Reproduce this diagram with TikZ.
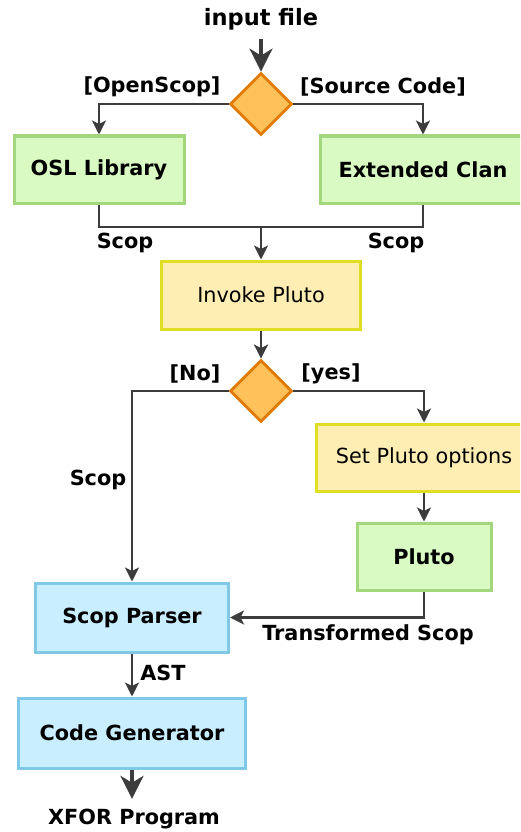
\documentclass[tikz,border=0pt]{standalone}
\usepackage{fontspec}
\setmainfont{DejaVu Sans}
\usetikzlibrary{shapes.geometric,arrows.meta}
\definecolor{lineC}{HTML}{3C3C3C}
\definecolor{gFill}{HTML}{D9FAC2}
\definecolor{gLine}{HTML}{A2D77E}
\definecolor{yFill}{HTML}{FFEEB3}
\definecolor{yLine}{HTML}{E0DE22}
\definecolor{bFill}{HTML}{C9EEFF}
\definecolor{bLine}{HTML}{80C8E8}
\definecolor{dFill}{HTML}{FFC25A}
\definecolor{dLine}{HTML}{E07A00}
\tikzset{
  box/.style={rectangle, line width=3pt, inner sep=0pt, align=center},
  greenbox/.style={box, fill=gFill, draw=gLine},
  yellowbox/.style={box, fill=yFill, draw=yLine, font=\fontsize{20.8}{24}\selectfont\mdseries},
  bluebox/.style={box, fill=bFill, draw=bLine},
  decision/.style={shape=diamond, aspect=1, inner sep=0pt, minimum width=62pt, minimum height=62pt, fill=dFill, draw=dLine, line width=2.8pt},
  lbl/.style={inner sep=0pt, text=black},
  plainline/.style={draw=lineC, line width=2.6pt},
  conn/.style={plainline, -{Stealth[length=14pt,width=14pt,inset=3.5pt]}},
  bigconn/.style={draw=lineC, line width=3.2pt, -{Stealth[length=23pt,width=23pt,inset=7pt]}}
}
\begin{document}
\begin{tikzpicture}[x=1pt,y=-1pt,font=\fontsize{20.8}{24}\selectfont\bfseries]
\useasboundingbox (0,0) rectangle (520,832);
\clip (0,0) rectangle (520,832);

% nodes
\node[lbl, font=\fontsize{22.5}{26}\selectfont\bfseries] (in) at (261,19) {input file};
\node[decision] (d1) at (261,104) {};
\node[greenbox, minimum width=170pt, minimum height=67pt] (osl) at (99,169.5) {OSL Library};
\node[greenbox, minimum width=206pt, minimum height=67pt] (clan) at (423,169.5) {Extended Clan};
\coordinate (j) at (261,227);
\node[yellowbox, minimum width=199pt, minimum height=68pt] (invoke) at (261,295) {Invoke Pluto};
\node[decision] (d2) at (261,391) {};
\node[yellowbox, minimum width=216pt, minimum height=67pt] (setopt) at (424,457.5) {Set Pluto options};
\node[greenbox, minimum width=134pt, minimum height=67pt] (pluto) at (424,556.5) {Pluto};
\node[bluebox, minimum width=193pt, minimum height=69pt] (parser) at (132,617.5) {Scop Parser};
\node[bluebox, minimum width=227pt, minimum height=70pt] (codegen) at (132,733) {Code Generator};
\node[lbl, inner ysep=0pt] (xfor) at (134,819) {XFOR Program};

% labels
\node[lbl] (lOpen) at (152,87) {[OpenScop]};
\node[lbl] (lSrc) at (383,87) {[Source Code]};
\node[lbl] (lScopA) at (125,243) {Scop};
\node[lbl] (lScopB) at (396,243) {Scop};
\node[lbl] (lNo) at (195,374) {[No]};
\node[lbl] (lYes) at (331,374) {[yes]};
\node[lbl] (lScopC) at (98,480) {Scop};
\node[lbl] (lTrans) at (368,635) {Transformed Scop};
\node[lbl] (lAst) at (163,673) {AST};

% connectors
\draw[bigconn, shorten <=9pt] (in.south) -- (d1.north);
\draw[conn] (d1.west) -| (osl.north);
\draw[conn] (d1.east) -| (clan.north);
\draw[plainline] (osl.south) |- (j) -| (clan.south);
\draw[conn] (j) -- (invoke.north);
\draw[conn] (invoke.south) -- (d2.north);
\draw[conn] (d2.west) -| (parser.north);
\draw[conn] (d2.east) -| (setopt.north);
\draw[conn] (setopt.south) -- (pluto.north);
\draw[conn] (pluto.south) |- (parser.east);
\draw[conn] (parser.south) -- (codegen.north);
\draw[bigconn, shorten >=10pt] (codegen.south) -- (codegen.south |- xfor.north);
\end{tikzpicture}
\end{document}
